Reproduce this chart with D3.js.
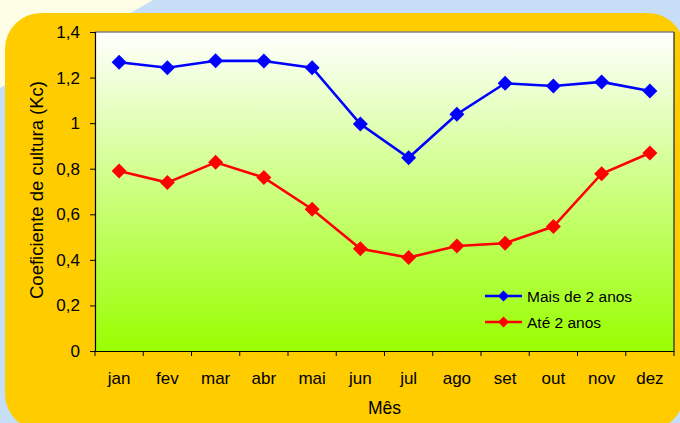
<!DOCTYPE html>
<html>
<head>
<meta charset="utf-8">
<script src="https://cdn.jsdelivr.net/npm/d3@7"></script>
<style>
  body { margin: 0; background: #c6def6; }
  svg { display: block; font-family: "Liberation Sans", Arial, sans-serif; }
</style>
</head>
<body>
<div id="container"></div>
<script>
/* DATA */
const months = ["jan", "fev", "mar", "abr", "mai", "jun", "jul", "ago", "set", "out", "nov", "dez"];
const maisDe2 = [1.267, 1.243, 1.274, 1.273, 1.243, 0.996, 0.848, 1.039, 1.175, 1.163, 1.181, 1.141];
const ate2 = [0.790, 0.739, 0.828, 0.761, 0.622, 0.449, 0.410, 0.461, 0.473, 0.546, 0.778, 0.869];
const yTicks = [0, 0.2, 0.4, 0.6, 0.8, 1, 1.2, 1.4];
const seriesNames = ["Mais de 2 anos", "Até 2 anos"];

const W = 680, H = 423;
const plot = { left: 95, right: 674, top: 32, bottom: 351 };
const fontSize = 17;

const svg = d3.select("#container").append("svg")
  .attr("width", W).attr("height", H);

// background: blue with pale diagonal at the top-left
svg.append("rect").attr("width", W).attr("height", H).attr("fill", "#c6def6");
svg.append("path").attr("d", "M0,0 L153,0 L0,88 Z").attr("fill", "#fefde6");

// orange rounded panel
svg.append("rect")
  .attr("x", 5).attr("y", 13)
  .attr("width", 679).attr("height", 417)
  .attr("rx", 36).attr("ry", 36)
  .attr("fill", "#ffcc00");

// gradient for plot area
const defs = svg.append("defs");
const grad = defs.append("linearGradient").attr("id", "plotGrad")
  .attr("x1", 0).attr("y1", 0).attr("x2", 0).attr("y2", 1);
grad.append("stop").attr("offset", "0%").attr("stop-color", "#ffffff");
grad.append("stop").attr("offset", "100%").attr("stop-color", "#99ff00");

// scales
const x = d3.scaleBand().domain(months).range([plot.left, plot.right]);
const y = d3.scaleLinear().domain([0, 1.4]).range([plot.bottom, plot.top]);

svg.append("rect")
  .attr("x", plot.left).attr("y", plot.top)
  .attr("width", plot.right - plot.left).attr("height", plot.bottom - plot.top)
  .attr("fill", "url(#plotGrad)");

// plot frame (gray top, dark right)
svg.append("line").attr("x1", plot.left).attr("x2", plot.right)
  .attr("y1", plot.top).attr("y2", plot.top)
  .attr("stroke", "#808080").attr("stroke-width", 1.5);
svg.append("line").attr("x1", plot.right).attr("x2", plot.right)
  .attr("y1", plot.top).attr("y2", plot.bottom)
  .attr("stroke", "#222").attr("stroke-width", 1.2);

// y axis
const yAxis = svg.append("g")
  .attr("transform", `translate(${plot.left},0)`)
  .call(d3.axisLeft(y).tickValues(yTicks).tickSize(5).tickPadding(10)
    .tickFormat(d => d3.format(".1f")(d).replace(".", ",").replace(/^0,0$/, "0").replace(/^1,0$/, "1")));
yAxis.select(".domain").attr("stroke", "#000").attr("stroke-width", 1.2);
yAxis.selectAll(".tick line").attr("stroke", "#000");
yAxis.selectAll("text").attr("font-size", fontSize).attr("fill", "#000")
  .attr("font-family", "Liberation Sans, Arial, sans-serif");

// x axis (ticks between categories)
const xAxis = svg.append("g")
  .attr("transform", `translate(0,${plot.bottom})`)
  .call(d3.axisBottom(x).tickSize(0).tickPadding(21));
xAxis.select(".domain").attr("stroke", "#000").attr("stroke-width", 1.2);
xAxis.selectAll("text").attr("font-size", fontSize).attr("fill", "#000")
  .attr("font-family", "Liberation Sans, Arial, sans-serif");
xAxis.selectAll(".boundary")
  .data(months.concat(["end"]))
  .join("line")
  .attr("class", "boundary")
  .attr("x1", (d, i) => plot.left + i * x.bandwidth())
  .attr("x2", (d, i) => plot.left + i * x.bandwidth())
  .attr("y1", 0).attr("y2", 5)
  .attr("stroke", "#000");

// axis titles
svg.append("text")
  .attr("x", (plot.left + plot.right) / 2).attr("y", 414)
  .attr("text-anchor", "middle").attr("font-size", 17.5)
  .text("Mês");
svg.append("text")
  .attr("transform", `translate(43,190) rotate(-90)`)
  .attr("text-anchor", "middle").attr("font-size", 18.5)
  .text("Coeficiente de cultura (Kc)");

// lines + diamond markers
function drawSeries(values, color, r) {
  const line = d3.line()
    .x((d, i) => x(months[i]) + x.bandwidth() / 2)
    .y(d => y(d));
  svg.append("path").datum(values)
    .attr("d", line)
    .attr("fill", "none").attr("stroke", color).attr("stroke-width", 2.6);
  svg.selectAll(null).data(values).join("path")
    .attr("transform", (d, i) => `translate(${x(months[i]) + x.bandwidth() / 2},${y(d)})`)
    .attr("d", `M0,${-r}L${r},0L0,${r}L${-r},0Z`)
    .attr("fill", color);
}
drawSeries(maisDe2, "#0000ff", 7.5);
drawSeries(ate2, "#ff0000", 7.5);

// legend
const legend = svg.append("g").attr("transform", "translate(485,296)");
[["#0000ff", seriesNames[0]], ["#ff0000", seriesNames[1]]].forEach((s, i) => {
  const g = legend.append("g").attr("transform", `translate(0,${i * 26})`);
  g.append("line").attr("x1", 0).attr("x2", 37).attr("y1", 0).attr("y2", 0)
    .attr("stroke", s[0]).attr("stroke-width", 2.6);
  g.append("path").attr("transform", "translate(18.5,0)")
    .attr("d", "M0,-5.5L5.5,0L0,5.5L-5.5,0Z").attr("fill", s[0]);
  g.append("text").attr("x", 42).attr("y", 5.5).attr("font-size", 15.5).text(s[1]);
});
</script>
</body>
</html>
